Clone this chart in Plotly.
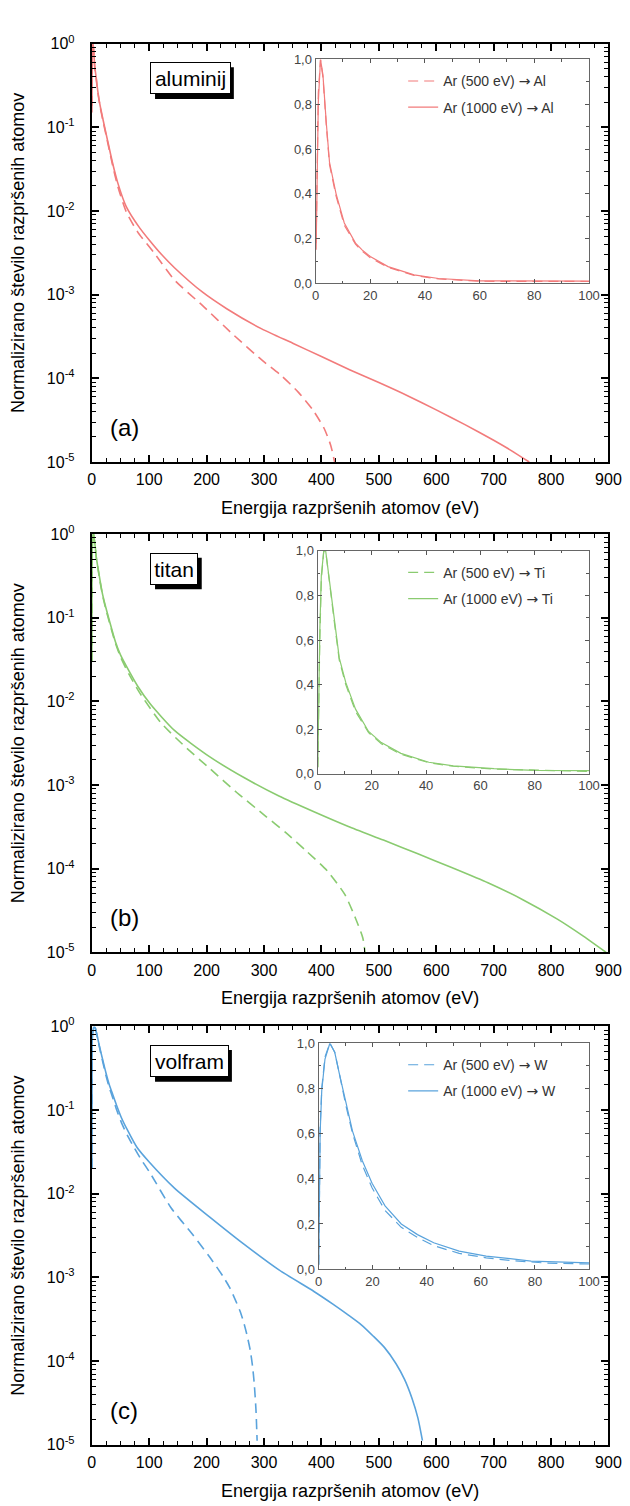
import plotly.graph_objects as go

# ---------------- data ----------------
# Ar (1000 eV) -> Al
al_e_1000 = [0.2, 0.5, 1.0, 1.8, 2.7, 3.9, 5.1, 7.5, 10.5, 14.6, 17, 20, 26.5, 36, 45, 60,
             84, 100, 120, 144, 193, 235, 296, 350, 400, 450, 500, 550, 600, 650, 700, 730, 762]
al_n_1000 = [0.15, 0.45, 0.81, 1.0, 0.93, 0.72, 0.54, 0.40, 0.27, 0.18, 0.15, 0.12, 0.075, 0.038, 0.022, 0.0113,
             0.0062, 0.0045, 0.0031, 0.0021, 0.00107, 0.00068, 0.00039, 0.000263, 0.000182, 0.000126,
             8.9e-5, 6.2e-5, 4.2e-5, 2.8e-5, 1.82e-5, 1.38e-5, 1.0e-5]
# Ar (500 eV) -> Al
al_e_500 = [0.2, 0.5, 1.0, 1.8, 2.7, 3.9, 5.1, 7.5, 10.5, 14.6, 17, 20, 26.5, 36, 45, 60,
            80, 108, 144, 193, 247, 296, 330, 360, 385, 405, 416, 423]
al_n_500 = [0.18, 0.5, 0.85, 1.0, 0.92, 0.71, 0.53, 0.39, 0.26, 0.175, 0.145, 0.115, 0.072, 0.036, 0.020, 0.0098,
            0.0056, 0.0032, 0.0015, 0.00074, 0.00033, 0.000166, 0.000108, 6.8e-5, 4.2e-5, 2.5e-5,
            1.6e-5, 1.0e-5]

# Ar (1000 eV) -> Ti
ti_e_1000 = [0.1, 0.36, 0.84, 1.4, 2.3, 3.0, 4.4, 6.2, 8.0, 10.4, 14, 18.8, 23.5, 30.7, 41, 50, 65, 80,
             102, 144, 205, 265, 326, 387, 447, 508, 568, 629, 690, 750, 811, 853, 896]
ti_n_1000 = [0.03, 0.35, 0.64, 0.89, 1.0, 1.0, 0.86, 0.69, 0.52, 0.41, 0.29, 0.19, 0.14, 0.092, 0.052, 0.036,
             0.023, 0.0152, 0.0093, 0.0045, 0.00219, 0.00123, 0.00074, 0.00048, 0.00032, 0.00022, 0.000151,
             0.000102, 6.8e-5, 4.3e-5, 2.5e-5, 1.62e-5, 1.0e-5]
# Ar (500 eV) -> Ti
ti_e_500 = [0.1, 0.36, 0.84, 1.4, 2.3, 3.0, 4.4, 6.2, 8.0, 10.4, 14, 18.8, 23.5, 30.7, 41, 50, 65, 84,
            120, 162, 205, 253, 302, 338, 375, 411, 441, 459, 472, 476]
ti_n_500 = [0.03, 0.3, 0.6, 0.87, 1.0, 1.0, 0.85, 0.68, 0.51, 0.40, 0.28, 0.185, 0.135, 0.088, 0.05, 0.034,
            0.021, 0.0125, 0.0056, 0.0029, 0.00159, 0.00081, 0.00043, 0.00027, 0.00016, 9.3e-5, 4.9e-5,
            2.6e-5, 1.5e-5, 1.0e-5]

# Ar (1000 eV) -> W
w_e_1000 = [0.1, 0.6, 1.2, 2.4, 4.2, 6, 7.8, 10.2, 12.6, 16.2, 19.8, 24.6, 30.6, 36.6, 42.6, 52, 62, 78.6,
            100, 144, 205, 265, 326, 387, 420, 447, 470, 490, 510, 530, 545, 558, 568, 576]
w_n_1000 = [0.02, 0.6, 0.79, 0.93, 1.0, 0.96, 0.86, 0.73, 0.61, 0.48, 0.38, 0.28, 0.2, 0.153, 0.117, 0.08,
            0.058, 0.036, 0.024, 0.0117, 0.0053, 0.0025, 0.00123, 0.00068, 0.00048, 0.000355, 0.00027,
            0.0002, 0.000145, 9.3e-5, 6.0e-5, 3.55e-5, 2.1e-5, 1.12e-5]
# Ar (500 eV) -> W
w_e_500 = [0.1, 0.6, 1.2, 2.4, 4.2, 6, 7.8, 10.2, 12.6, 16.2, 19.8, 24.6, 30.6, 36.6, 42.6, 52, 62, 71.5,
           84, 102, 138, 175, 205, 229, 240, 250, 258, 264, 270, 276, 280, 283, 286, 288]
w_n_500 = [0.02, 0.62, 0.8, 0.94, 1.0, 0.96, 0.86, 0.72, 0.6, 0.46, 0.36, 0.26, 0.185, 0.14, 0.104, 0.07,
           0.05, 0.038, 0.027, 0.0175, 0.0068, 0.0033, 0.00177, 0.00102, 0.00076, 0.00054, 0.0004,
           0.0003, 0.00021, 0.000135, 8.7e-5, 5.4e-5, 2.6e-5, 1.12e-5]

materials = ["aluminij", "titan", "volfram"]
symbols = ["Al", "Ti", "W"]
panel_tags = ["(a)", "(b)", "(c)"]
main_yticks = [1, 1e-1, 1e-2, 1e-3, 1e-4, 1e-5]
main_ytext = ["10<sup>0</sup>", "10<sup>-1</sup>", "10<sup>-2</sup>", "10<sup>-3</sup>",
              "10<sup>-4</sup>", "10<sup>-5</sup>"]
inset_yticks = [0.0, 0.2, 0.4, 0.6, 0.8, 1.0]
inset_ytext = ["0,0", "0,2", "0,4", "0,6", "0,8", "1,0"]
x_title = "Energija razpršenih atomov (eV)"
y_title = "Normalizirano število razpršenih atomov"

series = [
    (al_e_500, al_n_500, al_e_1000, al_n_1000),
    (ti_e_500, ti_n_500, ti_e_1000, ti_n_1000),
    (w_e_500, w_n_500, w_e_1000, w_n_1000),
]

# ---------------- styling / layout ----------------
W, H = 630, 1506
FONT = "Liberation Sans, Arial, sans-serif"
colors = ["#F27B7B", "#8ACB70", "#5AA3DC"]
DASH = "10px,6px"
ARROW = "<span style='font-family:DejaVu Sans'>\u2192</span>"


def fx(p):
    return p / W


def fy(p):
    return 1 - p / H


main_left, main_right = 82, 613
main_tops = [25, 522, 1021]
main_h = 424
inset_box = [(312, 593, 41, 268), (314, 593, 539, 765), (315, 593, 1038, 1267)]
label_w = [81, 48, 79]
label_h = 32

minor_log = [m * 10 ** k for k in range(-5, 0) for m in range(2, 10)]

fig = go.Figure()
layout = dict(
    width=W, height=H, margin=dict(l=0, r=0, t=0, b=0),
    paper_bgcolor="white", plot_bgcolor="white",
    font=dict(family=FONT, size=16, color="black"),
    showlegend=True, annotations=[], shapes=[],
)


def sfx(k):
    return "" if k == 1 else str(k)


for i in range(3):
    e5, n5, e10, n10 = series[i]
    col = colors[i]
    mx = my = 2 * i + 1
    ix = iy = 2 * i + 2
    # main traces
    fig.add_trace(go.Scatter(x=e5, y=n5, mode="lines", xaxis="x" + sfx(mx), yaxis="y" + sfx(my),
                             line=dict(color=col, width=1.6, dash=DASH, shape="spline", smoothing=0.6),
                             showlegend=False))
    fig.add_trace(go.Scatter(x=e10, y=n10, mode="lines", xaxis="x" + sfx(mx), yaxis="y" + sfx(my),
                             line=dict(color=col, width=1.6, shape="spline", smoothing=0.6),
                             showlegend=False))
    # inset traces
    leg = "legend" + ("" if i == 0 else str(i + 1))
    fig.add_trace(go.Scatter(x=e5, y=n5, mode="lines", xaxis="x" + sfx(ix), yaxis="y" + sfx(iy),
                             line=dict(color=col, width=1.2, dash=DASH),
                             name=f"Ar (500 eV) {ARROW} {symbols[i]}", legend=leg, legendgroup=f"g5{i}"))
    fig.add_trace(go.Scatter(x=e10, y=n10, mode="lines", xaxis="x" + sfx(ix), yaxis="y" + sfx(iy),
                             line=dict(color=col, width=1.2),
                             name=f"Ar (1000 eV) {ARROW} {symbols[i]}", legend=leg, legendgroup=f"g10{i}"))

    top = main_tops[i]
    bot = top + main_h
    # main axes
    layout["xaxis" + sfx(mx)] = dict(
        domain=[fx(main_left), fx(main_right)], anchor="y" + sfx(my), range=[0, 900],
        dtick=100, tick0=0, ticks="inside", ticklen=7, tickwidth=1.5, tickcolor="black",
        minor=dict(ticks="inside", ticklen=4, dtick=25, tickwidth=1.2, tickcolor="black"),
        showline=True, linecolor="black", linewidth=2, mirror="ticks", showgrid=False, zeroline=False,
        tickfont=dict(size=16, family=FONT), ticklabelstandoff=2,
        title=dict(text=x_title, font=dict(size=18, family=FONT), standoff=14),
    )
    layout["yaxis" + sfx(my)] = dict(
        domain=[fy(bot), fy(top)], anchor="x" + sfx(mx), type="log", range=[-5, 0],
        tickmode="array", tickvals=main_yticks, ticktext=main_ytext,
        ticks="inside", ticklen=7, tickwidth=1.5, tickcolor="black",
        minor=dict(ticks="inside", ticklen=4, tickmode="array", tickvals=minor_log,
                   tickwidth=1.2, tickcolor="black"),
        showline=True, linecolor="black", linewidth=2, mirror="ticks", showgrid=False, zeroline=False,
        tickfont=dict(size=16, family=FONT), ticklabelstandoff=12,
        title=dict(text=y_title, font=dict(size=18, family=FONT), standoff=18),
    )
    # inset axes
    l, r, t, b = inset_box[i]
    layout["xaxis" + sfx(ix)] = dict(
        domain=[fx(l), fx(r)], anchor="y" + sfx(iy), range=[0, 100], dtick=20, tick0=0,
        ticks="inside", ticklen=4, tickcolor="#555", tickwidth=1,
        minor=dict(ticks="inside", ticklen=2.5, dtick=10, tickcolor="#555"),
        showline=True, linecolor="#666", linewidth=1, mirror="ticks", showgrid=False, zeroline=False,
        tickfont=dict(size=13, family=FONT, color="#444"),
    )
    layout["yaxis" + sfx(iy)] = dict(
        domain=[fy(b), fy(t)], anchor="x" + sfx(ix), range=[0, 1],
        tickmode="array", tickvals=inset_yticks, ticktext=inset_ytext,
        ticks="inside", ticklen=4, tickcolor="#555", tickwidth=1,
        minor=dict(ticks="inside", ticklen=2.5, dtick=0.1, tickcolor="#555"),
        showline=True, linecolor="#666", linewidth=1, mirror="ticks", showgrid=False, zeroline=False,
        tickfont=dict(size=13, family=FONT, color="#444"),
    )
    # legend inside inset
    layout[leg] = dict(
        x=fx(402), y=fy(t + 6), xanchor="left", yanchor="top",
        bgcolor="rgba(0,0,0,0)", borderwidth=0, tracegroupgap=5,
        font=dict(size=14, family=FONT, color="#333"),
    )
    # material label box with drop shadow
    bx0, by0 = 142, top + 19
    bw = label_w[i]
    layout["shapes"].append(dict(
        type="rect", xref="paper", yref="paper", layer="above",
        x0=fx(bx0 + 5), x1=fx(bx0 + bw + 5), y0=fy(by0 + label_h + 5), y1=fy(by0 + 5),
        fillcolor="black", line=dict(width=0)))
    layout["annotations"].append(dict(
        x=fx(bx0), y=fy(by0), xref="paper", yref="paper", xanchor="left", yanchor="top",
        text=materials[i], showarrow=False, font=dict(size=21, family=FONT, color="black"),
        width=bw - 8, height=label_h - 8, align="center", valign="middle",
        bgcolor="white", bordercolor="black", borderwidth=1, borderpad=3))
    # panel tag
    layout["annotations"].append(dict(
        x=fx(99), y=fy(bot - 35), xref="paper", yref="paper", xanchor="left", yanchor="middle",
        text=panel_tags[i], showarrow=False, font=dict(size=24, family=FONT, color="black")))

fig.update_layout(**layout)
fig.write_html("out.html")
